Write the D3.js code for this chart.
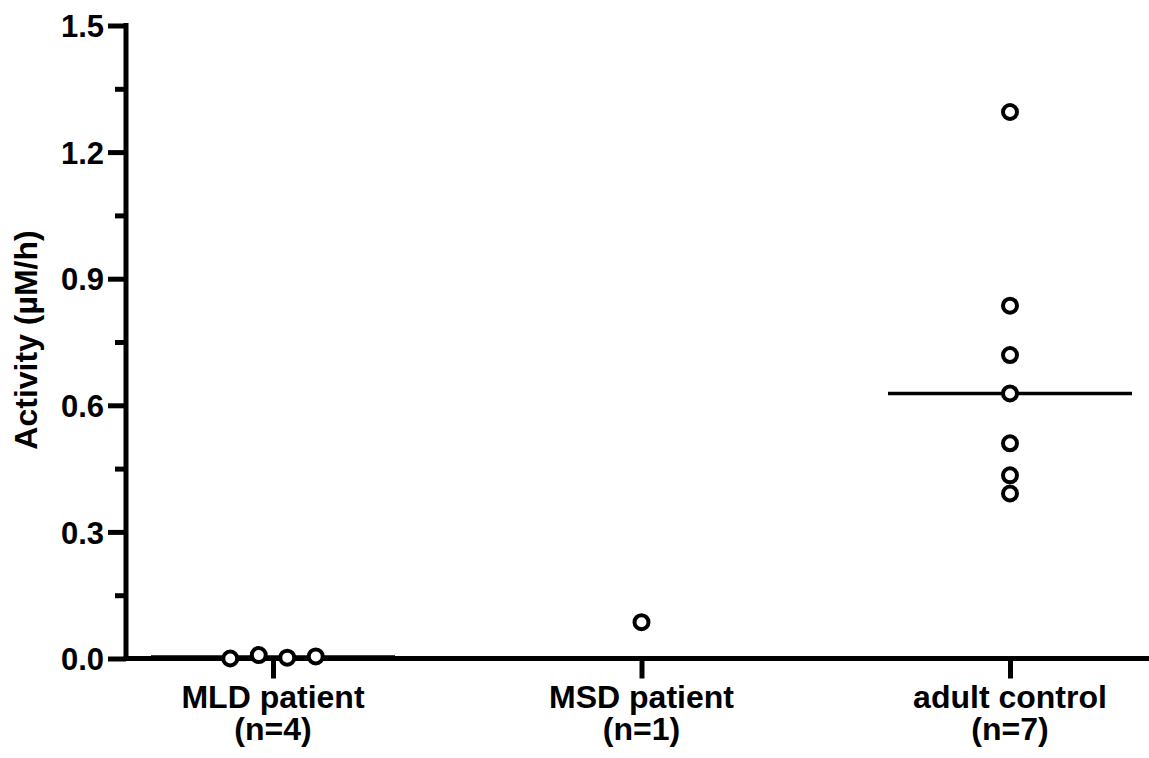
<!DOCTYPE html>
<html>
<head>
<meta charset="utf-8">
<script src="https://cdn.jsdelivr.net/npm/d3@7"></script>
<style>
  html, body { margin: 0; padding: 0; background: #fff; }
  svg { display: block; }
  text { font-family: "Liberation Sans", Arial, Helvetica, sans-serif; font-weight: bold; fill: #000; }
</style>
</head>
<body>
<svg id="chart" width="1149" height="758"></svg>
<script>
// ---- data ----
const categories = ["MLD patient", "MSD patient", "adult control"];
const categoryN = ["(n=4)", "(n=1)", "(n=7)"];
const mldValues = [0.000, 0.008, 0.002, 0.005];
const msdValues = [0.086];
const adultValues = [1.295, 0.836, 0.719, 0.628, 0.510, 0.434, 0.391];
const showMedian = [true, false, true];
const yTicks = [0.0, 0.3, 0.6, 0.9, 1.2, 1.5];
const yMinorTicks = [0.15, 0.45, 0.75, 1.05, 1.35];
const yTitle = "Activity (µM/h)";

const groups = [mldValues, msdValues, adultValues];

const svg = d3.select("#chart");
const plotLeft = 126, plotRight = 1149, plotTop = 25.5, plotBottom = 658.5;

const y = d3.scaleLinear().domain([0, 1.5]).range([plotBottom, plotTop]);
const x = d3.scalePoint().domain(categories).range([273, 1010]);

// y axis
const yAxis = d3.axisLeft(y).tickValues(yTicks).tickFormat(d3.format(".1f")).tickSize(18).tickPadding(4);
const gy = svg.append("g").attr("transform", `translate(${plotLeft},0)`).call(yAxis);
gy.select(".domain").remove();
gy.selectAll(".tick line").attr("stroke", "#000").attr("stroke-width", 5);
gy.selectAll(".tick text").style("font-size", "31px").attr("dy", "0.36em");
const yMinor = d3.axisLeft(y).tickValues(yMinorTicks).tickFormat("").tickSize(11);
const gym = svg.append("g").attr("transform", `translate(${plotLeft},0)`).call(yMinor);
gym.select(".domain").remove();
gym.selectAll(".tick line").attr("stroke", "#000").attr("stroke-width", 5);
svg.append("line").attr("x1", plotLeft).attr("x2", plotLeft).attr("y1", plotTop - 2.5).attr("y2", plotBottom + 2.5)
  .attr("stroke", "#000").attr("stroke-width", 5);

// x axis
const xAxis = d3.axisBottom(x).tickSize(20).tickFormat("");
const gx = svg.append("g").attr("transform", `translate(0,${plotBottom})`).call(xAxis);
gx.select(".domain").remove();
gx.selectAll(".tick line").attr("stroke", "#000").attr("stroke-width", 5);
svg.append("line").attr("x1", plotLeft - 2.5).attr("x2", plotRight).attr("y1", plotBottom).attr("y2", plotBottom)
  .attr("stroke", "#000").attr("stroke-width", 5);

// category labels
const lab = svg.append("g");
categories.forEach((c, i) => {
  const t = lab.append("text").attr("x", x(c)).attr("text-anchor", "middle").style("font-size", "32px");
  t.append("tspan").attr("x", x(c)).attr("y", 708).text(c);
  t.append("tspan").attr("x", x(c)).attr("y", 740).text(categoryN[i]);
});

// y title
svg.append("text")
  .attr("transform", `translate(37,340) rotate(-90)`)
  .attr("text-anchor", "middle")
  .style("font-size", "32px")
  .text(yTitle);

// medians
groups.forEach((vals, i) => {
  if (!showMedian[i]) return;
  const m = d3.median(vals);
  svg.append("line")
    .attr("x1", x(categories[i]) - 122).attr("x2", x(categories[i]) + 122)
    .attr("y1", y(m)).attr("y2", y(m))
    .attr("stroke", "#000").attr("stroke-width", 3.5);
});

// points with simple horizontal spreading of overlapping clusters
const r = 7, spread = 28.5;
groups.forEach((vals, i) => {
  const cx = x(categories[i]);
  const ys = vals.map(v => y(v));
  const span = d3.max(ys) - d3.min(ys);
  const n = vals.length;
  const clustered = n > 1 && span < 2 * r;
  vals.forEach((v, j) => {
    const off = clustered ? (j - (n - 1) / 2) * spread : 0;
    svg.append("circle")
      .attr("cx", cx + off).attr("cy", y(v)).attr("r", r)
      .attr("fill", "#fff").attr("stroke", "#000").attr("stroke-width", 4);
  });
});
</script>
</body>
</html>
